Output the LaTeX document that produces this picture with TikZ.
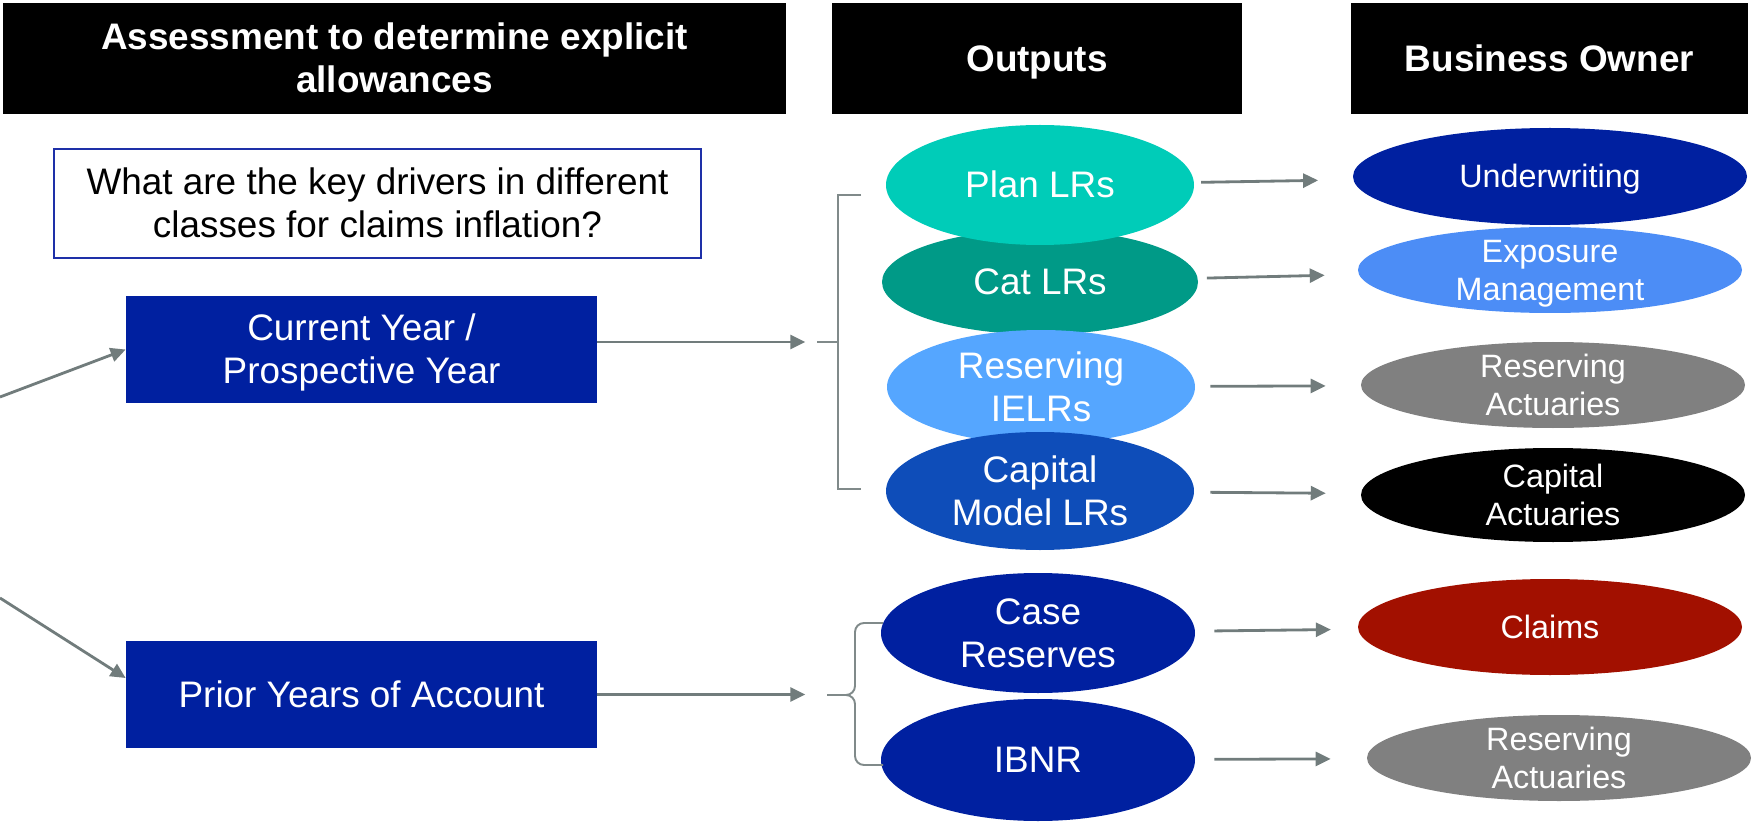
\documentclass[tikz,border=0pt]{standalone}
\usepackage{fontspec}
\setmainfont{Liberation Sans}
\usetikzlibrary{arrows.meta,shapes.geometric}

\definecolor{deepblue}{RGB}{0,32,160}
\definecolor{planteal}{RGB}{0,204,184}
\definecolor{catgreen}{RGB}{0,154,135}
\definecolor{resblue}{RGB}{85,166,255}
\definecolor{capblue}{RGB}{14,77,185}
\definecolor{expoblue}{RGB}{76,141,246}
\definecolor{actgrey}{RGB}{128,128,128}
\definecolor{claimred}{RGB}{162,16,0}
\definecolor{arrowgrey}{RGB}{113,124,124}
\definecolor{brkgrey}{RGB}{128,138,138}
\definecolor{qblue}{RGB}{30,48,168}

\newcommand{\bigtxt}{\fontsize{21}{24.7}\selectfont}
\newcommand{\smalltxt}{\fontsize{18.4}{21.5}\selectfont}
% line box as in the slide: ascent and descent of the font
\newcommand{\lnstrut}{\rule[-0.212em]{0pt}{1.117em}}
\newcommand{\lnbreak}{\lnstrut\\}

\begin{document}
\begin{tikzpicture}[
    lines/.style={align=center, execute at begin node=\lnstrut, execute at end node=\lnstrut},
    hdr/.style={lines, fill=black, text=white, font=\bigtxt\bfseries,
        minimum height=2.22cm, inner sep=0pt},
    blk/.style={lines, fill=deepblue, text=white, font=\bigtxt,
        minimum width=9.42cm, minimum height=2.14cm, inner sep=0pt},
    outp/.style={lines, ellipse, text=white, font=\bigtxt, inner sep=-5mm},
    owner/.style={lines, ellipse, text=white, font=\smalltxt, inner sep=-5mm,
        minimum width=7.68cm, minimum height=1.72cm},
    arr/.style={arrowgrey, line width=1.6pt, -{Triangle[length=0.3cm,width=0.28cm]}},
    brk/.style={brkgrey, line width=1.1pt},
]
    \useasboundingbox (0,0) rectangle (35.04,16.5);

    % column headers
    \node[hdr, minimum width=15.66cm] (hdrA) at (7.89,15.33) {Assessment to determine explicit\lnbreak allowances};
    \node[hdr, minimum width=8.2cm] (hdrB) at (20.74,15.33) {Outputs};
    \node[hdr, minimum width=7.94cm] (hdrC) at (30.99,15.33) {Business Owner};

    \node[lines, draw=qblue, line width=1.4pt, font=\bigtxt,
        minimum width=12.94cm, minimum height=2.18cm, inner sep=0pt]
        (qbox) at (7.55,12.43) {What are the key drivers in different\lnbreak classes for claims inflation?};

    \node[blk] (cur) at (7.23,9.51) {Current Year /\lnbreak Prospective Year};
    \node[blk] (prior) at (7.23,2.61) {Prior Years of Account};

    \coordinate (srcA) at (0,8.56);
    \coordinate (srcB) at (0,4.54);
    \draw[arr] (srcA) -- (cur.west);
    \draw[arr] (srcB) -- ([yshift=0.33cm]prior.west);

    % outputs (Cat first, so Plan lies over it)
    \node[outp, fill=catgreen, minimum width=6.32cm, minimum height=2.1cm] (cat) at (20.8,10.86) {Cat LRs};
    \node[outp, fill=planteal, minimum width=6.16cm, minimum height=2.4cm] (plan) at (20.8,12.8) {Plan LRs};
    \node[outp, fill=resblue, minimum width=6.16cm, minimum height=2.28cm] (resv) at (20.82,8.76) {Reserving\lnbreak IELRs};
    \node[outp, fill=capblue, minimum width=6.16cm, minimum height=2.36cm] (capm) at (20.8,6.68) {Capital\lnbreak Model LRs};
    \node[outp, fill=deepblue, minimum width=6.28cm, minimum height=2.4cm] (casr) at (20.76,3.84) {Case\lnbreak Reserves};
    \node[outp, fill=deepblue, minimum width=6.28cm, minimum height=2.44cm] (ibnr) at (20.76,1.3) {IBNR};

    \draw[arr] ([yshift=0.15cm]cur.east) -- ++(4.16,0);
    \draw[arr] (prior.east) -- ++(4.16,0);

    % square bracket and brace
    \draw[brk] (16.34,9.66) -- (16.76,9.66);
    \draw[brk] (17.22,12.6) -- (16.76,12.6) -- (16.76,6.72) -- (17.22,6.72);
    \draw[brk, rounded corners=0.18cm] (17.66,4.04) -- (17.1,4.04) -- (17.1,2.6) -- (16.54,2.6);
    \draw[brk, rounded corners=0.18cm] (17.66,1.2) -- (17.1,1.2) -- (17.1,2.6) -- (16.54,2.6);

    % business owners
    \node[owner, fill=deepblue, minimum width=7.88cm, minimum height=1.94cm] (uw) at (31.0,12.97) {Underwriting};
    \node[owner, fill=expoblue] (expo) at (31.0,11.1) {Exposure\lnbreak Management};
    \node[owner, fill=actgrey] (ract) at (31.06,8.8) {Reserving\lnbreak Actuaries};
    \node[owner, fill=black, minimum height=1.88cm] (capa) at (31.06,6.6) {Capital\lnbreak Actuaries};
    \node[owner, fill=claimred, minimum height=1.92cm] (clm) at (31.0,3.96) {Claims};
    \node[owner, fill=actgrey] (ractB) at (31.18,1.34) {Reserving\lnbreak Actuaries};

    \foreach \a/\b/\s/\e in {plan/uw/0.14cm/0.7cm, cat/expo/0.18cm/0.68cm,
        resv/ract/0.3cm/0.7cm, capm/capa/0.32cm/0.7cm,
        casr/clm/0.38cm/0.54cm, ibnr/ractB/0.38cm/0.72cm}
        \draw[arr, shorten <=\s, shorten >=\e] (\a) -- (\b);
\end{tikzpicture}
\end{document}
